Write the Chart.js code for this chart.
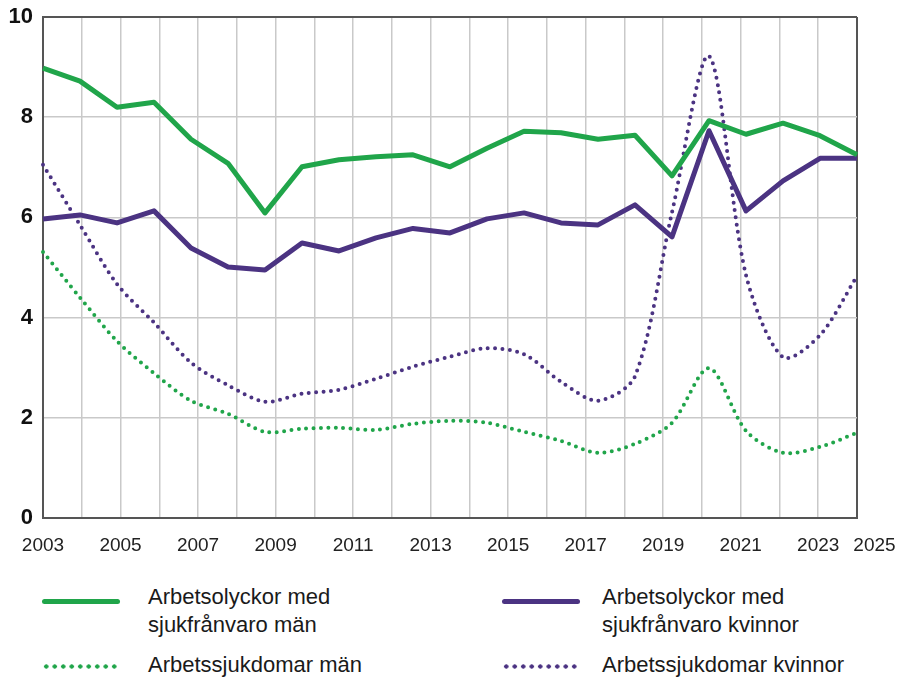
<!DOCTYPE html>
<html>
<head>
<meta charset="utf-8">
<script src="https://cdn.jsdelivr.net/npm/chart.js@4/dist/chart.umd.min.js"></script>
<style>
	html, body { margin:0; padding:0; background:#fff; }
	.chartWrap { position:relative; width:897px; height:677px; font-family:'Liberation Sans', Arial, sans-serif; }
	.chartWrap canvas { position:absolute; left:0; top:0; }
	.graphLegendBox div { position:absolute; font-size:22px; line-height:28px; color:#1a1a1a; }
	.graphLegendBox span { position:absolute; height:5px; border-radius:3px; }
</style>
</head>
<body>
<div class="chartWrap">
	<canvas id="sjukChart" width="897" height="572"></canvas>
	<div class="graphLegendBox" id="legendBox"></div>
</div>
<script>
// years of the data points
var years = [2003,2004,2005,2006,2007,2008,2009,2010,2011,2012,2013,2014,2015,2016,2017,2018,2019,2020,2021,2022,2023,2024,2025];
var olyckorMan = [8.98,8.72,8.2,8.3,7.56,7.08,6.09,7.01,7.15,7.21,7.25,7.01,7.38,7.72,7.69,7.56,7.64,6.83,7.93,7.66,7.88,7.63,7.25];
var olyckorKvinnor = [5.97,6.05,5.89,6.13,5.39,5.01,4.95,5.49,5.33,5.59,5.78,5.69,5.97,6.09,5.89,5.85,6.25,5.61,7.73,6.13,6.73,7.18,7.18];
var sjukdomarMan = [5.31,4.4,3.53,2.89,2.34,2.08,1.72,1.78,1.8,1.76,1.88,1.94,1.9,1.72,1.54,1.3,1.48,1.9,2.99,1.74,1.3,1.42,1.7];
var sjukdomarKvinnor = [7.05,5.85,4.67,3.9,3.1,2.65,2.32,2.48,2.56,2.78,3.02,3.22,3.39,3.27,2.72,2.34,2.83,6.1,9.22,4.85,3.21,3.65,4.83];
// grid years and axis labels
var gridYears = [2003,2004,2005,2006,2007,2008,2009,2010,2011,2012,2013,2014,2015,2016,2017,2018,2019,2020,2021,2022,2023,2024];
var xTickLabels = ['2003','2005','2007','2009','2011','2013','2015','2017','2019','2021','2023','2025'];
var yTicks = [0,2,4,6,8,10];

var seriesNames = [
	['Arbetsolyckor med', 'sjukfrånvaro män'],
	['Arbetsolyckor med', 'sjukfrånvaro kvinnor'],
	['Arbetssjukdomar män'],
	['Arbetssjukdomar kvinnor']
];

var green = '#20a54a';
var purple = '#4b3382';
var gridColor = '#c9c9c9';
var frameColor = '#555555';

var lineSet = function(label, data, color, dotted) {
	return {
		label: label.join(' '),
		data: data,
		xAxisID: 'x',
		borderColor: color,
		backgroundColor: color,
		borderWidth: dotted ? 4 : 5,
		borderDash: dotted ? [0, 7.4] : [],
		borderCapStyle: dotted ? 'round' : 'butt',
		borderJoinStyle: 'round',
		tension: dotted ? 0.3 : 0,
		pointRadius: 0,
		fill: false
	};
};

var noPad = function(s) {
	s.paddingLeft = 0;
	s.paddingRight = 0;
	s.paddingTop = 0;
	s.paddingBottom = 0;
};

var chartSet = new Chart(document.getElementById('sjukChart'), {
	type: 'line',
	data: {
		labels: years,
		datasets: [
			lineSet(seriesNames[0], olyckorMan, green, false),
			lineSet(seriesNames[1], olyckorKvinnor, purple, false),
			lineSet(seriesNames[2], sjukdomarMan, green, true),
			lineSet(seriesNames[3], sjukdomarKvinnor, purple, true)
		]
	},
	options: {
		responsive: false,
		animation: false,
		layout: { padding: { top: 17, right: 40, left: 0, bottom: 0 } },
		plugins: {
			legend: { display: false },
			tooltip: { enabled: false }
		},
		scales: {
			// data axis, hidden
			x: {
				type: 'category',
				offset: false,
				display: false
			},
			// grid / label axis
			xg: {
				type: 'linear',
				position: 'bottom',
				min: 2003,
				max: 2024,
				afterBuildTicks: function(s) {
					s.ticks = gridYears.map(function(v) { return { value: v }; });
					// last label sits just outside the frame
					s.ticks.push({ value: 2024.45 });
				},
				afterFit: function(s) { s.height = 54; noPad(s); },
				ticks: {
					autoSkip: false,
					maxRotation: 0,
					padding: 16,
					color: '#222',
					font: { family: "'Liberation Sans', Arial, sans-serif", size: 19 },
					callback: function(v) {
						var lbl = v > 2024 ? '2025' : String(v);
						return xTickLabels.indexOf(lbl) > -1 ? lbl : '';
					}
				},
				grid: {
					drawTicks: false,
					color: function(ctx) {
						if (ctx.tick && ctx.tick.value > 2024) return 'rgba(0,0,0,0)';
						if (ctx.tick && (ctx.tick.value === 2024 || ctx.tick.value === 2003)) return frameColor;
						return gridColor;
					},
					lineWidth: function(ctx) {
						if (ctx.tick && (ctx.tick.value === 2024 || ctx.tick.value === 2003)) return 2;
						return 1.5;
					}
				},
				border: { display: true, color: frameColor, width: 2 }
			},
			y: {
				min: 0,
				max: 10,
				afterBuildTicks: function(s) {
					s.ticks = yTicks.map(function(v) { return { value: v }; });
				},
				afterFit: function(s) { s.width = 43; noPad(s); },
				ticks: {
					padding: 10,
					color: '#111',
					font: { family: "'Liberation Sans', Arial, sans-serif", size: 22, weight: 'bold' }
				},
				grid: {
					drawTicks: false,
					color: function(ctx) {
						if (ctx.tick && (ctx.tick.value === 10 || ctx.tick.value === 0)) return frameColor;
						return gridColor;
					},
					lineWidth: function(ctx) {
						if (ctx.tick && (ctx.tick.value === 10 || ctx.tick.value === 0)) return 2;
						return 1.5;
					}
				},
				border: { display: true, color: frameColor, width: 2 }
			}
		}
	}
});

// html legend, two columns
var creatLegendFn = function() {
	var box = document.getElementById('legendBox');
	var spots = [
		{ sx: 42, sy: 599, tx: 148, ty: 583 },
		{ sx: 502, sy: 599, tx: 602, ty: 583 },
		{ sx: 42, sy: 664, tx: 148, ty: 651 },
		{ sx: 502, sy: 664, tx: 602, ty: 651 }
	];
	var html = '';
	for (var i = 0; i < chartSet.data.datasets.length; i++) {
		var ds = chartSet.data.datasets[i];
		var p = spots[i];
		var dotted = ds.borderDash.length > 0;
		var bg = dotted
			? 'background:radial-gradient(circle, ' + ds.borderColor + ' 1.9px, rgba(255,255,255,0) 2.4px) 0 0 / 8.5px 5px repeat-x;'
			: 'background:' + ds.borderColor + ';';
		html += '<span style="left:' + p.sx + 'px;top:' + p.sy + 'px;width:78px;' + bg + '"></span>';
		html += '<div style="left:' + p.tx + 'px;top:' + p.ty + 'px;">' + seriesNames[i].join('<br>') + '</div>';
	}
	box.innerHTML = html;
};
creatLegendFn();
</script>
</body>
</html>
